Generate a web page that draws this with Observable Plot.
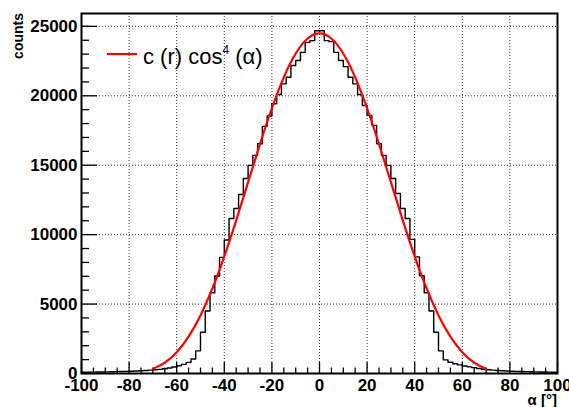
<!DOCTYPE html>
<html>
<head>
<meta charset="utf-8">
<script src="https://cdn.jsdelivr.net/npm/d3@7"></script>
<script src="https://cdn.jsdelivr.net/npm/@observablehq/plot@0.6"></script>
<style>
  html, body { margin: 0; padding: 0; background: #fff; }
  svg { display: block; overflow: visible; }
</style>
</head>
<body>
<div id="chart"></div>
<script>
// ---- data ----
const binStart = -100;
const binWidth = 2;
const counts = [
  90, 95, 100, 105, 110, 115, 125, 135, 145, 155,
  165, 180, 195, 215, 240, 265, 300, 345, 400, 470,
  560, 660, 800, 1040, 1630, 2970, 4500, 5820, 7020, 8360,
  9610, 11160, 11880, 12890, 14040, 14990, 15710, 16550, 17800, 18540,
  19430, 20090, 20860, 21340, 22180, 22540, 23130, 23850, 23970, 24690,
  24690, 23970, 23900, 23130, 22540, 22100, 21340, 20860, 20090, 19300,
  18590, 17870, 16550, 15710, 14990, 14040, 12960, 11880, 11160, 9660,
  8400, 7040, 5820, 4500, 2970, 1630, 980, 810, 700, 620,
  540, 480, 420, 360, 310, 270, 240, 215, 195, 180,
  165, 155, 145, 135, 125, 115, 110, 105, 100, 95
];
const fitAlpha = [-70, -65, -60, -55, -50, -45, -40, -35, -30, -25, -20, -15, -10, -5, 0,
                  5, 10, 15, 20, 25, 30, 35, 40, 45, 50, 55, 60, 65, 70];
const fitCounts = [335, 782, 1531, 2652, 4183, 6125, 8437, 11031, 13781, 16530, 19103, 21328, 23045, 24129, 24500,
                   24129, 23045, 21328, 19103, 16530, 13781, 11031, 8437, 6125, 4183, 2652, 1531, 782, 335];
const xMajor = [-100, -80, -60, -40, -20, 0, 20, 40, 60, 80, 100];
const xMinor = [-95, -90, -85, -75, -70, -65, -55, -50, -45, -35, -30, -25, -15, -10, -5,
                5, 10, 15, 25, 30, 35, 45, 50, 55, 65, 70, 75, 85, 90, 95];
const yMajor = [0, 5000, 10000, 15000, 20000, 25000];
const yMinor = [1000, 2000, 3000, 4000, 6000, 7000, 8000, 9000, 11000, 12000, 13000, 14000,
                16000, 17000, 18000, 19000, 21000, 22000, 23000, 24000, 25000];
const yMax = 25927;
const xLabel = "α [°]";
const yLabel = "counts";
const legendText = ["c (r) cos", "4", " (α)"];

// step outline points
const steps = counts.map((c, i) => ({x: binStart + i * binWidth, y: c}));
steps.push({x: binStart + counts.length * binWidth, y: counts[counts.length - 1]});
const fit = fitAlpha.map((a, i) => ({x: a, y: fitCounts[i]}));

const font = "'Liberation Sans', Arial, Helvetica, sans-serif";

const chart = Plot.plot({
  width: 569,
  height: 407,
  marginLeft: 81,
  marginRight: 12,
  marginTop: 13,
  marginBottom: 34,
  style: {fontFamily: font, background: "#fff", overflow: "visible"},
  x: {domain: [-100, 100]},
  y: {domain: [0, yMax]},
  marks: [
    Plot.ruleX(xMajor.filter(d => d > -100 && d < 100), {stroke: "#000", strokeOpacity: 0.8, strokeWidth: 1, strokeDasharray: "1,2"}),
    Plot.ruleY(yMajor.filter(d => d > 0), {stroke: "#000", strokeOpacity: 0.8, strokeWidth: 1, strokeDasharray: "1,2"}),
    Plot.axisX({ticks: xMinor, tickSize: -5.5, text: null, label: null, strokeWidth: 1.3}),
    Plot.axisX({ticks: xMajor, tickSize: -11, text: null, label: null, strokeWidth: 1.3}),
    Plot.axisY({ticks: yMinor, tickSize: -8, text: null, label: null, strokeWidth: 1.3}),
    Plot.axisY({ticks: yMajor, tickSize: -16, text: null, label: null, strokeWidth: 1.3}),
    Plot.axisX({ticks: xMajor, tickSize: 0, tickPadding: 5, tickFormat: d => String(d), label: null,
                fontSize: 17, fontWeight: "bold", fill: "#000"}),
    Plot.axisY({ticks: yMajor, tickSize: 0, tickPadding: 4, tickFormat: d => String(d), label: null,
                fontSize: 17, fontWeight: "bold", fill: "#000"}),
    Plot.line(steps, {x: "x", y: "y", curve: "step-after", stroke: "#000", strokeWidth: 1.4}),
    Plot.line(fit, {x: "x", y: "y", curve: "natural", stroke: "#ff0000", strokeWidth: 2.2}),
    Plot.frame({stroke: "#000", strokeWidth: 2})
  ]
});

const svg = d3.select(chart);
// y label
svg.append("text")
  .attr("transform", "translate(23,13) rotate(-90)")
  .attr("text-anchor", "end")
  .attr("font-family", font)
  .attr("font-weight", "bold")
  .attr("font-size", 14)
  .attr("fill", "#000")
  .text(yLabel);
// x label
svg.append("text")
  .attr("x", 557)
  .attr("y", 405)
  .attr("text-anchor", "end")
  .attr("font-family", font)
  .attr("font-weight", "bold")
  .attr("font-size", 15)
  .attr("fill", "#000")
  .text(xLabel);
// legend
svg.append("line")
  .attr("x1", 107).attr("x2", 137).attr("y1", 54).attr("y2", 54)
  .attr("stroke", "#ff0000").attr("stroke-width", 2.2);
const lt = svg.append("text")
  .attr("x", 143).attr("y", 64)
  .attr("text-anchor", "start")
  .attr("font-family", font)
  .attr("font-size", 22)
  .attr("fill", "#000");
lt.append("tspan").text(legendText[0]);
lt.append("tspan").attr("font-size", 12).attr("dy", -10).text(legendText[1]);
lt.append("tspan").attr("dy", 10).text(legendText[2]);

document.getElementById("chart").appendChild(chart);
</script>
</body>
</html>
